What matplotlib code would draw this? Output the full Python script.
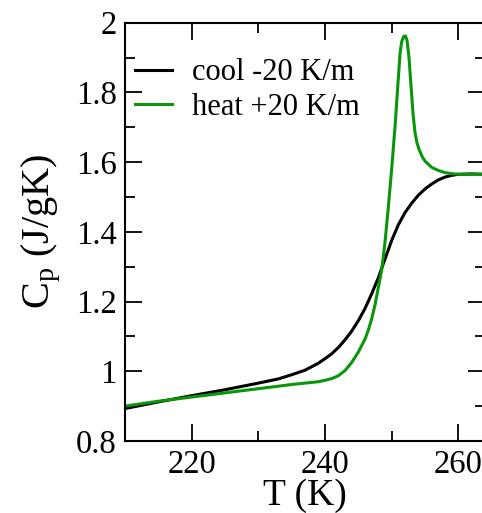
import matplotlib
matplotlib.use('Agg')
import matplotlib.pyplot as plt
from matplotlib.ticker import MultipleLocator

plt.rcParams['font.family'] = ['Liberation Serif', 'DejaVu Serif']
plt.rcParams['mathtext.fontset'] = 'custom'
plt.rcParams['mathtext.rm'] = 'Liberation Serif'
plt.rcParams['mathtext.it'] = 'Liberation Serif:italic'

# cooling run, -20 K/min
t_cool = [210, 215, 220, 225, 230, 233, 235, 237, 239, 240, 241, 242, 243, 244,
          245, 246, 247, 248, 249, 250, 251, 252, 253, 254, 255, 256, 257, 258,
          259, 260, 262, 264]
cp_cool = [0.893, 0.912, 0.930, 0.947, 0.966, 0.978, 0.990, 1.003, 1.023, 1.036,
           1.050, 1.068, 1.090, 1.115, 1.145, 1.180, 1.222, 1.268, 1.322, 1.375,
           1.420, 1.455, 1.482, 1.505, 1.523, 1.537, 1.549, 1.557, 1.562, 1.565,
           1.566, 1.565]

# heating run, +20 K/min
t_heat = [210, 215, 220, 225, 230, 235, 239, 240, 241, 242, 243, 244, 245, 246,
          246.5, 247, 247.5, 248, 248.5, 249, 249.5, 250, 250.5, 251, 251.25,
          251.5, 251.8, 252.05, 252.3, 252.6, 252.9, 253.2, 253.5, 253.8, 254.2,
          254.6, 255, 256, 257, 258, 259, 260, 264]
cp_heat = [0.900, 0.914, 0.926, 0.938, 0.950, 0.962, 0.970, 0.974, 0.979, 0.987,
           1.002, 1.025, 1.055, 1.092, 1.118, 1.150, 1.190, 1.240, 1.290, 1.370,
           1.470, 1.580, 1.700, 1.840, 1.910, 1.945, 1.960, 1.962, 1.950, 1.900,
           1.820, 1.740, 1.685, 1.655, 1.632, 1.615, 1.603, 1.585, 1.576, 1.570,
           1.567, 1.565, 1.565]

fig = plt.figure(figsize=(4.82, 5.13), dpi=100)
ax = fig.add_axes([0.2593, 0.1404, 0.7469, 0.8154])

ax.plot(t_cool, cp_cool, color='black', lw=2.2, label='cool -20 K/m')
ax.plot(t_heat, cp_heat, color='#0a960a', lw=2.2, label='heat +20 K/m')

ax.set_xlim(210, 264)
ax.set_ylim(0.8, 2.0)
ax.xaxis.set_major_locator(MultipleLocator(20))
ax.xaxis.set_minor_locator(MultipleLocator(10))
ax.yaxis.set_major_locator(MultipleLocator(0.2))
ax.yaxis.set_minor_locator(MultipleLocator(0.1))
ax.set_yticks([0.8, 1.0, 1.2, 1.4, 1.6, 1.8, 2.0])
ax.set_yticklabels(['0.8', '1', '1.2', '1.4', '1.6', '1.8', '2'])

ax.tick_params(which='both', direction='in', top=True, right=True,
               labelsize=23.5, width=1.3, pad=6)
ax.tick_params(which='major', length=12.5)
ax.tick_params(which='minor', length=7)
for s in ax.spines.values():
    s.set_linewidth(1.5)

ax.set_xlabel('T (K)', fontsize=27, labelpad=-1)
ax.set_ylabel(r'C$_\mathrm{p}$ (J/gK)', fontsize=29, labelpad=9)

leg = ax.legend(loc='upper left', fontsize=22, frameon=False,
                handlelength=1.2, handletextpad=0.65, labelspacing=0.18,
                borderaxespad=0.0, borderpad=0.0, bbox_to_anchor=(0.028, 0.915))

fig.savefig('out.png', dpi=100)
